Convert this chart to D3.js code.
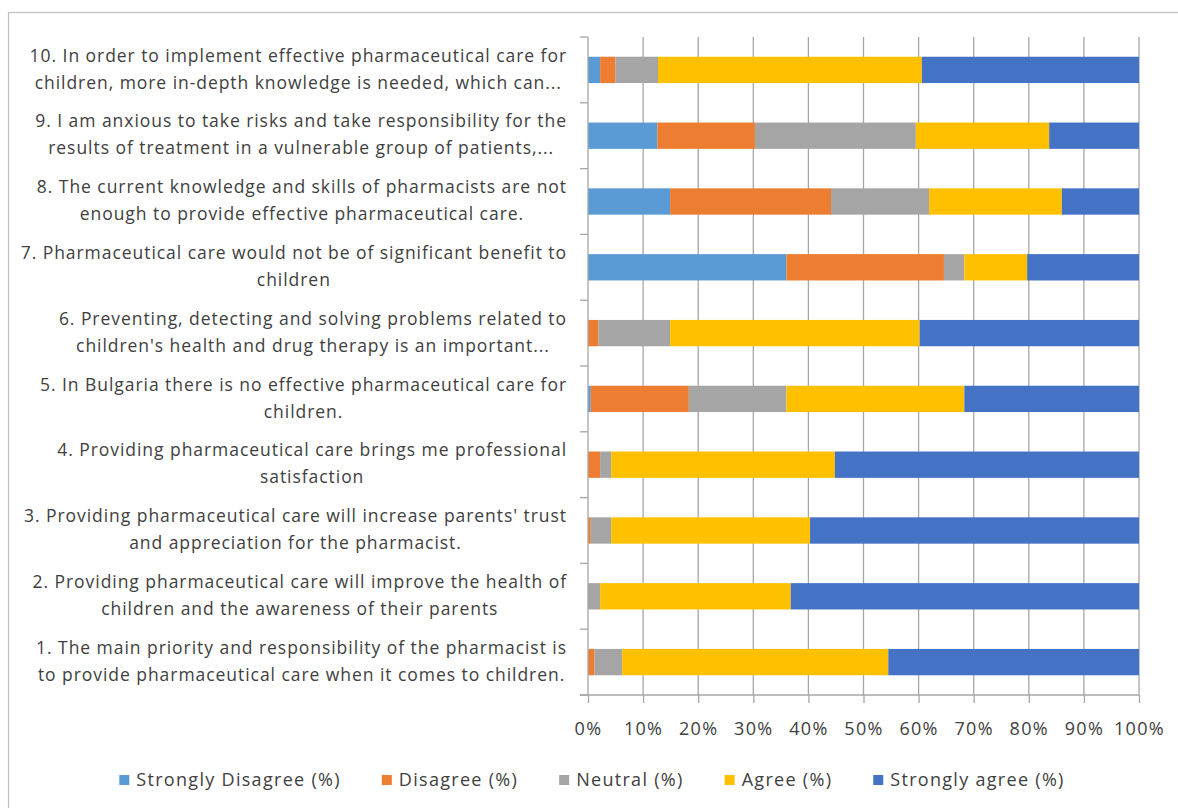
<!DOCTYPE html>
<html>
<head>
<meta charset="utf-8">
<script src="https://cdn.jsdelivr.net/npm/d3@7"></script>
<style>
  body { margin: 0; background: #fff; }
  svg { display: block; }
  text { font-family: "Open Sans", Lato, sans-serif; fill: #404040; }
</style>
</head>
<body>
<svg id="chart"></svg>
<script>
// statements, bottom to top as in the picture (1 at bottom)
const statements = [
    ["1. The main priority and responsibility of the pharmacist is", "to provide pharmaceutical care when it comes to children."],
    ["2. Providing pharmaceutical care will improve the health of", "children and the awareness of their parents"],
    ["3. Providing pharmaceutical care will increase parents' trust", "and appreciation for the pharmacist."],
    ["4. Providing pharmaceutical care brings me professional", "satisfaction"],
    ["5. In Bulgaria there is no effective pharmaceutical care for", "children."],
    ["6. Preventing, detecting and solving problems related to", "children's health and drug therapy is an important..."],
    ["7. Pharmaceutical care would not be of significant benefit to", "children"],
    ["8. The current knowledge and skills of pharmacists are not", "enough to provide effective pharmaceutical care."],
    ["9. I am anxious to take risks and take responsibility for the", "results of treatment in a vulnerable group of patients,..."],
    ["10. In order to implement effective pharmaceutical care for", "children, more in-depth knowledge is needed, which can..."]
];

const seriesNames = ["Strongly Disagree (%)", "Disagree (%)", "Neutral (%)", "Agree (%)", "Strongly agree (%)"];
const seriesColors = ["#5b9bd5", "#ed7d31", "#a5a5a5", "#ffc000", "#4472c4"];

// values, per statement 1..10
const stronglyDisagree = [0, 0, 0, 0, 0.5, 0, 36.0, 14.9, 12.6, 2.2];
const disagree         = [1.2, 0, 0.5, 2.2, 17.8, 1.9, 28.6, 29.2, 17.7, 2.8];
const neutral          = [5.0, 2.2, 3.7, 2.0, 17.7, 13.0, 3.7, 17.8, 29.2, 7.7];
const agree            = [48.3, 34.6, 36.1, 40.6, 32.3, 45.3, 11.4, 24.1, 24.2, 47.9];
const stronglyAgree    = [45.5, 63.2, 59.7, 55.2, 31.7, 39.8, 20.3, 14.0, 16.3, 39.4];

const xTicks = [0, 10, 20, 30, 40, 50, 60, 70, 80, 90, 100];

const W = 1178, H = 808;
const margin = {top: 37, right: 39, bottom: 113, left: 588};
const width = W - margin.left - margin.right;
const height = H - margin.top - margin.bottom;

const svg = d3.select("#chart").attr("width", W).attr("height", H);

// outer chart frame (cut at right/bottom like the reference)
svg.append("rect")
    .attr("x", 8.5).attr("y", 12.5)
    .attr("width", W + 10).attr("height", H + 10)
    .attr("fill", "none").attr("stroke", "#bfbfbf").attr("stroke-width", 1.2);

const chart = svg.append("g").attr("transform", `translate(${margin.left},${margin.top})`);

const rows = statements.map((s, i) => ({
    id: i,
    label: s,
    values: [stronglyDisagree[i], disagree[i], neutral[i], agree[i], stronglyAgree[i]]
}));

const xScale = d3.scaleLinear().domain([0, 100]).range([0, width]);
// row 1 at bottom, row 10 at top
const yScale = d3.scaleBand()
    .domain(rows.map(d => d.id).reverse())
    .range([0, height])
    .paddingInner(0.6)
    .paddingOuter(0.3);

// vertical gridlines
chart.append("g").attr("class", "grid")
    .selectAll("line")
    .data(xTicks.slice(1))
    .join("line")
    .attr("x1", d => xScale(d)).attr("x2", d => xScale(d))
    .attr("y1", 0).attr("y2", height)
    .attr("stroke", "#a6a6a6").attr("stroke-width", 1.3);

// stacked bars
const stackData = rows.map(r => {
    const o = {id: r.id};
    seriesNames.forEach((n, k) => o[n] = r.values[k]);
    return o;
});
const stacked = d3.stack().keys(seriesNames)(stackData);

chart.append("g").attr("class", "bars")
    .selectAll("g")
    .data(stacked)
    .join("g")
    .attr("fill", (d, k) => seriesColors[k])
    .selectAll("rect")
    .data(d => d)
    .join("rect")
    .attr("x", d => xScale(d[0]))
    .attr("width", d => Math.max(0, xScale(d[1]) - xScale(d[0])))
    .attr("y", d => yScale(d.data.id))
    .attr("height", yScale.bandwidth());

// y axis line with ticks at category boundaries
const step = yScale.step();
const yAxisG = chart.append("g").attr("class", "axis y-axis");
yAxisG.append("line")
    .attr("x1", 0).attr("x2", 0).attr("y1", 0).attr("y2", height)
    .attr("stroke", "#a6a6a6").attr("stroke-width", 1.3);
yAxisG.selectAll(".ytick")
    .data(d3.range(rows.length + 1))
    .join("line")
    .attr("class", "ytick")
    .attr("x1", -8).attr("x2", 0)
    .attr("y1", i => i * step).attr("y2", i => i * step)
    .attr("stroke", "#a6a6a6").attr("stroke-width", 1.3);

// x axis
const xAxis = d3.axisBottom(xScale)
    .tickValues(xTicks)
    .tickFormat(d => d + "%")
    .tickSize(8)
    .tickPadding(19);

const xAxisG = chart.append("g")
    .attr("class", "axis x-axis")
    .attr("transform", `translate(0,${height})`)
    .call(xAxis);
xAxisG.select(".domain").attr("stroke", "#a6a6a6").attr("stroke-width", 1.3)
    .attr("d", `M-8,0H${width}`);
xAxisG.selectAll(".tick line").attr("stroke", "#a6a6a6").attr("stroke-width", 1.3);
xAxisG.selectAll(".tick text")
    .attr("fill", "#404040")
    .style("font-size", "18px")
    .style("letter-spacing", "1.3px")
    .style("font-family", "'Open Sans', sans-serif");

// category labels: lines centered on the widest line, block right-aligned
const labelRight = -21;
const labelG = chart.append("g").attr("class", "labels");
rows.forEach(r => {
    const cy = yScale(r.id) + yScale.bandwidth() / 2;
    const g = labelG.append("g");
    const texts = g.selectAll("text")
        .data(r.label)
        .join("text")
        .attr("y", (d, j) => cy - 1 + (j === 0 ? -13.5 : 13.5))
        .attr("dy", "0.35em")
        .attr("text-anchor", "middle")
        .style("font-size", "17.5px")
        .style("letter-spacing", "0.95px")
        .text(d => d);
    let maxW = 0;
    texts.each(function() { maxW = Math.max(maxW, this.getComputedTextLength()); });
    texts.attr("x", labelRight - maxW / 2);
});

// legend
const legend = svg.append("g").attr("class", "legend");
const items = legend.selectAll("g")
    .data(seriesNames)
    .join("g");
items.append("rect")
    .attr("width", 10).attr("height", 10)
    .attr("y", -5)
    .attr("fill", (d, k) => seriesColors[k]);
items.append("text")
    .attr("x", 17)
    .attr("dy", "0.35em")
    .style("font-size", "18px")
    .style("letter-spacing", "1.3px")
    .text(d => d);

let lx = 0;
const gap = 41;
const positions = [];
items.each(function() {
    positions.push(lx);
    const tw = d3.select(this).select("text").node().getComputedTextLength();
    lx += 17 + tw + gap;
});
const legendWidth = lx - gap;
const legendLeft = 592 - legendWidth / 2;
items.attr("transform", (d, k) => `translate(${legendLeft + positions[k]},780)`);
</script>
</body>
</html>
